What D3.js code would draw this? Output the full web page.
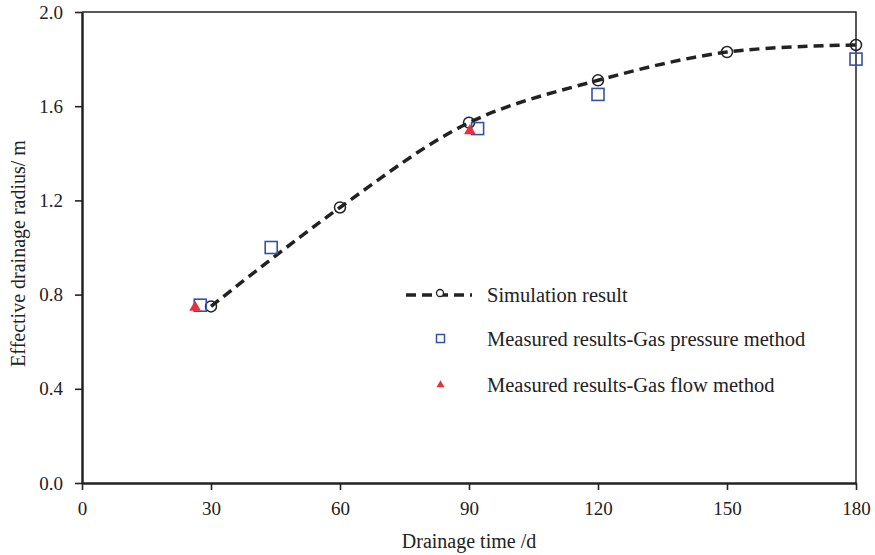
<!DOCTYPE html>
<html>
<head>
<meta charset="utf-8">
<script src="https://cdn.jsdelivr.net/npm/d3@7"></script>
<style>
  body { margin: 0; background: #fff; }
  text { font-family: "Liberation Serif", "Times New Roman", serif; fill: #222; }
</style>
</head>
<body>
<div class="chart"></div>
<script>
// simulation curve
const simDays = [30, 60, 90, 120, 150, 180];
const simRadius = [0.75, 1.17, 1.53, 1.71, 1.83, 1.86];

// measured - gas pressure method
const pressDays = [27.5, 44, 92, 120, 180];
const pressRadius = [0.755, 1.0, 1.505, 1.65, 1.80];

// measured - gas flow method
const flowDays = [26.3, 90.2];
const flowRadius = [0.75, 1.50];

const xTicks = [0, 30, 60, 90, 120, 150, 180];
const yTicks = [0, 0.4, 0.8, 1.2, 1.6, 2.0];

const legendLabels = [
  'Simulation result',
  'Measured results-Gas pressure method',
  'Measured results-Gas flow method'
];

const chartWidth = 875;
const chartHeight = 555;
const margin = { left: 82, right: 19, top: 12, bottom: 72 };
const width = chartWidth - margin.left - margin.right;
const height = chartHeight - margin.top - margin.bottom;

const blue = '#3553a6';
const red = '#e8313c';

const svg = d3.select('.chart')
  .append('svg')
  .attr('width', chartWidth)
  .attr('height', chartHeight)
  .append('g')
  .attr('transform', `translate(${margin.left}, ${margin.top})`);

const xScale = d3.scaleLinear().domain([0, 180]).range([0, width]);
const yScale = d3.scaleLinear().domain([0, 2]).range([height, 0]);

// frame (top and right)
svg.append('path')
  .attr('d', `M0,0H${width}V${height}`)
  .attr('fill', 'none')
  .attr('stroke', '#222')
  .attr('stroke-width', 1.5);

const xAxis = svg.append('g')
  .attr('transform', `translate(0, ${height})`)
  .call(d3.axisBottom(xScale).tickValues(xTicks).tickSize(7).tickSizeOuter(0).tickPadding(12));
const yAxis = svg.append('g')
  .call(d3.axisLeft(yScale).tickValues(yTicks).tickSize(7).tickSizeOuter(0).tickPadding(12)
    .tickFormat(d3.format('.1f')));

[xAxis, yAxis].forEach(ax => {
  ax.select('.domain').attr('stroke', '#222').attr('stroke-width', 2.5);
  ax.selectAll('.tick line').attr('stroke', '#222').attr('stroke-width', 1.6);
  ax.selectAll('.tick text')
    .attr('font-family', '"Liberation Serif", serif')
    .attr('font-size', 19)
    .attr('fill', '#222');
});

svg.append('text')
  .attr('x', width / 2)
  .attr('y', height + 65)
  .attr('text-anchor', 'middle')
  .attr('font-size', 20)
  .text('Drainage time /d');

svg.append('text')
  .attr('transform', `translate(${-57}, ${height / 2 + 6}) rotate(-90)`)
  .attr('text-anchor', 'middle')
  .attr('font-size', 20)
  .text('Effective drainage radius/ m');

const simData = simDays.map((d, i) => ({ x: d, y: simRadius[i] }));
const pressData = pressDays.map((d, i) => ({ x: d, y: pressRadius[i] }));
const flowData = flowDays.map((d, i) => ({ x: d, y: flowRadius[i] }));

const line = d3.line()
  .x(d => xScale(d.x))
  .y(d => yScale(d.y))
  .curve(d3.curveCatmullRom.alpha(0.5));

svg.append('path')
  .datum(simData)
  .attr('d', line)
  .attr('fill', 'none')
  .attr('stroke', '#222')
  .attr('stroke-width', 3.5)
  .attr('stroke-dasharray', '10,6');

svg.append('g').selectAll('circle')
  .data(simData)
  .enter()
  .append('circle')
  .attr('cx', d => xScale(d.x))
  .attr('cy', d => yScale(d.y))
  .attr('r', 5.5)
  .attr('fill', 'none')
  .attr('stroke', '#222')
  .attr('stroke-width', 1.5);

svg.append('g').selectAll('rect')
  .data(pressData)
  .enter()
  .append('rect')
  .attr('x', d => xScale(d.x) - 6)
  .attr('y', d => yScale(d.y) - 6)
  .attr('width', 12)
  .attr('height', 12)
  .attr('fill', 'none')
  .attr('stroke', blue)
  .attr('stroke-width', 1.6);

const tri = d3.symbol().type(d3.symbolTriangle);
svg.append('g').selectAll('path')
  .data(flowData)
  .enter()
  .append('path')
  .attr('transform', d => `translate(${xScale(d.x)}, ${yScale(d.y) + 1})`)
  .attr('d', tri.size(60)())
  .attr('fill', red);

// legend
const lg = svg.append('g').attr('transform', `translate(${406 - margin.left}, 0)`);
const legendY = [295, 339, 385].map(v => v - margin.top);

lg.append('line')
  .attr('x1', 0).attr('x2', 66)
  .attr('y1', legendY[0]).attr('y2', legendY[0])
  .attr('stroke', '#222')
  .attr('stroke-width', 3.5)
  .attr('stroke-dasharray', '10,6');
lg.append('circle')
  .attr('cx', 34).attr('cy', legendY[0] - 2).attr('r', 3.5)
  .attr('fill', '#fff').attr('stroke', '#222').attr('stroke-width', 1.3);
lg.append('rect')
  .attr('x', 30.5).attr('y', legendY[1] - 4.5)
  .attr('width', 8).attr('height', 8)
  .attr('fill', 'none').attr('stroke', blue).attr('stroke-width', 1.5);
lg.append('path')
  .attr('transform', `translate(34.5, ${legendY[2]})`)
  .attr('d', tri.size(28)())
  .attr('fill', red);

lg.selectAll('text.lab')
  .data(legendLabels)
  .enter()
  .append('text')
  .attr('class', 'lab')
  .attr('x', 81)
  .attr('y', (d, i) => legendY[i] + 7)
  .attr('font-size', 20.5)
  .text(d => d);
</script>
</body>
</html>
